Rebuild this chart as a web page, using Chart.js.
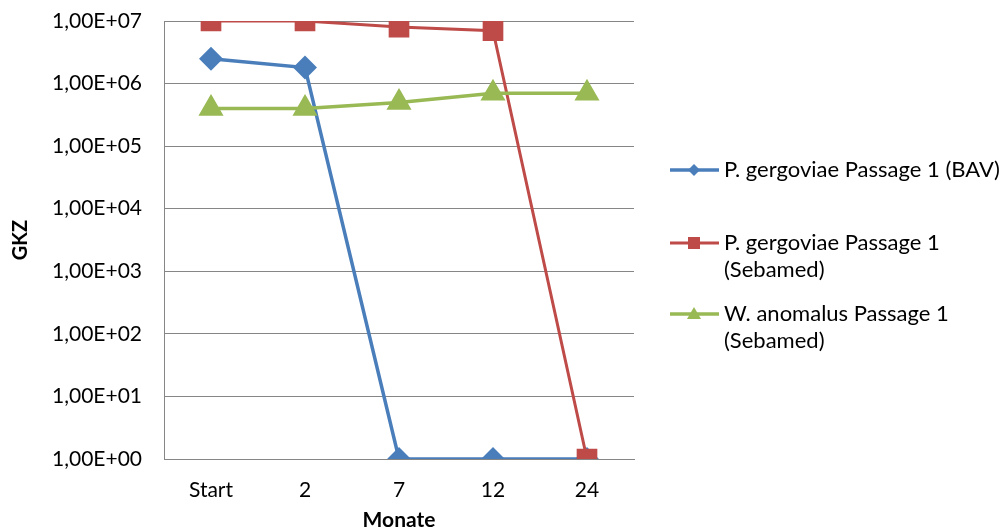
<!DOCTYPE html>
<html>
<head>
<meta charset="utf-8">
<script src="https://cdn.jsdelivr.net/npm/chart.js@4"></script>
<style>
  html, body { margin: 0; padding: 0; background: #fff; }
  #wrap { width: 1004px; height: 531px; }
</style>
</head>
<body>
<div id="wrap"><canvas id="chart" width="1004" height="531"></canvas></div>
<script>
// Werte
const months = ["Start", "2", "7", "12", "24"];
const bavValues = [2.5e6, 1.8e6, 1, 1, 1];
const sebamedValues = [1e7, 1e7, 8e6, 7e6, 1];
const anomalusValues = [4e5, 4e5, 5e5, 7e5, 7e5];
const seriesNames = [
    ["P. gergoviae Passage 1 (BAV)"],
    ["P. gergoviae Passage 1", "(Sebamed)"],
    ["W. anomalus Passage 1", "(Sebamed)"]
];
const yTicks = [1, 10, 100, 1e3, 1e4, 1e5, 1e6, 1e7];

const FONT = "Lato, 'Open Sans', sans-serif";

// Legende rechts, selbst gezeichnet (mehrzeilige Einträge)
const sideLegend = {
    id: "sideLegend",
    afterDraw(chart) {
        const ctx = chart.ctx;
        const rows = [170, 243, 314];
        ctx.save();
        chart.data.datasets.forEach((ds, i) => {
            const y = rows[i];
            ctx.strokeStyle = ds.borderColor;
            ctx.lineWidth = ds.borderWidth;
            ctx.beginPath();
            ctx.moveTo(670, y);
            ctx.lineTo(719, y);
            ctx.stroke();
            ctx.fillStyle = ds.pointBackgroundColor;
            const x = 694;
            ctx.beginPath();
            if (ds.pointStyle === "rectRot") {
                ctx.moveTo(x, y - 6); ctx.lineTo(x + 6, y); ctx.lineTo(x, y + 6); ctx.lineTo(x - 6, y);
            } else if (ds.pointStyle === "rect") {
                ctx.rect(x - 6, y - 6, 12, 12);
            } else {
                ctx.moveTo(x, y - 7); ctx.lineTo(x + 7, y + 5); ctx.lineTo(x - 7, y + 5);
            }
            ctx.closePath();
            ctx.fill();
            ctx.fillStyle = "#000";
            ctx.font = "22px " + FONT;
            ctx.textBaseline = "middle";
            ctx.textAlign = "left";
            seriesNames[i].forEach((line, k) => ctx.fillText(line, 724, y + k * 27));
        });
        ctx.restore();
    }
};

new Chart(document.getElementById("chart"), {
    type: "line",
    data: {
        labels: months,
        datasets: [
            {
                label: seriesNames[0].join(" "),
                data: bavValues,
                borderColor: "#4A7EBB",
                backgroundColor: "#4A7EBB",
                pointBackgroundColor: "#4A7EBB",
                pointBorderColor: "#4A7EBB",
                pointStyle: "rectRot",
                pointRadius: 9.5,
                borderWidth: 3.5,
                order: 3
            },
            {
                label: seriesNames[1].join(" "),
                data: sebamedValues,
                borderColor: "#BE4B48",
                backgroundColor: "#BE4B48",
                pointBackgroundColor: "#BE4B48",
                pointBorderColor: "#BE4B48",
                pointStyle: "rect",
                pointRadius: 12.5,
                borderWidth: 3,
                order: 2
            },
            {
                label: seriesNames[2].join(" "),
                data: anomalusValues,
                borderColor: "#98B954",
                backgroundColor: "#98B954",
                pointBackgroundColor: "#98B954",
                pointBorderColor: "#98B954",
                pointStyle: "triangle",
                pointRadius: 11,
                borderWidth: 3.5,
                order: 1
            }
        ]
    },
    options: {
        responsive: false,
        animation: false,
        layout: { padding: { top: 21, right: 370, left: 0, bottom: 0 } },
        plugins: {
            legend: { display: false },
            tooltip: { enabled: false }
        },
        elements: { line: { tension: 0 } },
        scales: {
            x: {
                offset: true,
                grid: { display: false, drawTicks: false },
                border: { display: true, color: "#868686", width: 1 },
                ticks: { color: "#000", padding: 19, font: { family: FONT, size: 21 } },
                title: {
                    display: true,
                    text: "Monate",
                    color: "#000",
                    padding: { top: 0, bottom: 0 },
                    font: { family: FONT, size: 21, weight: "bold", lineHeight: 1 }
                },
                afterFit(scale) { scale.height = 72; }
            },
            y: {
                type: "logarithmic",
                min: 1,
                max: 1e7,
                afterBuildTicks(scale) {
                    scale.ticks = yTicks.map(v => ({ value: v, major: true }));
                },
                grid: { color: "#868686", lineWidth: 1, drawTicks: false },
                border: { display: true, color: "#868686", width: 1 },
                ticks: {
                    color: "#000",
                    padding: 22,
                    font: { family: FONT, size: 21 },
                    callback(value) {
                        const exp = Math.round(Math.log10(value));
                        return "1,00E+" + String(exp).padStart(2, "0");
                    }
                },
                title: {
                    display: true,
                    text: "GKZ",
                    color: "#000",
                    padding: { top: 9, bottom: 0 },
                    font: { family: FONT, size: 20, weight: "bold" }
                },
                afterFit(scale) {
                    scale.width = 164;
                    scale.paddingTop = 0;
                    scale.paddingBottom = 0;
                }
            }
        }
    },
    plugins: [sideLegend]
});
</script>
</body>
</html>
